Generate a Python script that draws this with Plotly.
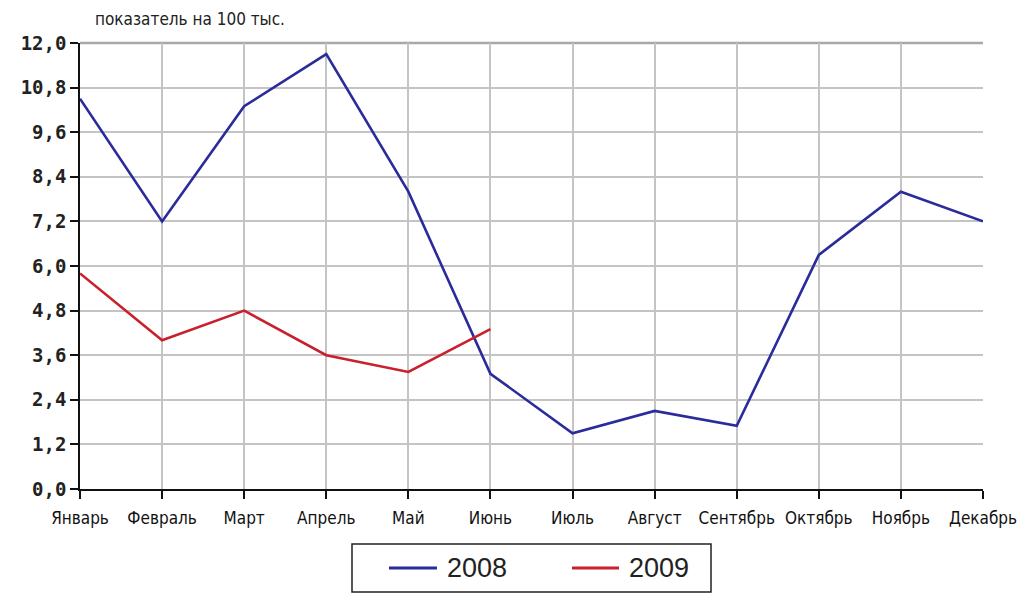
import plotly.graph_objects as go

# Monthly indicator per 100 thousand
months = ["Январь", "Февраль", "Март", "Апрель", "Май", "Июнь",
          "Июль", "Август", "Сентябрь", "Октябрь", "Ноябрь", "Декабрь"]
values_2008 = [10.5, 7.2, 10.3, 11.7, 8.0, 3.1, 1.5, 2.1, 1.7, 6.3, 8.0, 7.2]
values_2009 = [5.8, 4.0, 4.8, 3.6, 3.15, 4.3]
y_ticks = [0.0, 1.2, 2.4, 3.6, 4.8, 6.0, 7.2, 8.4, 9.6, 10.8, 12.0]

series = [
    ("2008", months, values_2008, "#2b2b9b"),
    ("2009", months[:len(values_2009)], values_2009, "#c8202c"),
]

fig = go.Figure()
for name, xs, ys, color in series:
    fig.add_trace(go.Scatter(
        x=xs, y=ys, mode="lines", name=name, showlegend=False,
        line=dict(color=color, width=2.6),
    ))

narrow = "DejaVu Sans Condensed, Liberation Sans Narrow, Arial Narrow, sans-serif"

fig.update_layout(
    width=1021, height=594,
    margin=dict(l=80, r=38, t=43, b=105),
    paper_bgcolor="white", plot_bgcolor="white",
    separators=", ",
    xaxis=dict(
        type="category", categoryorder="array", categoryarray=months,
        range=[0, 11], automargin=False, tickangle=0, ticklabelstandoff=5,
        showgrid=True, gridcolor="#c4c4c4", gridwidth=1.5,
        showline=True, linecolor="#111", linewidth=1.5,
        ticks="outside", ticklen=8, tickwidth=1.5, tickcolor="#111",
        tickfont=dict(family=narrow, size=17, color="#111"),
        zeroline=False,
    ),
    yaxis=dict(
        range=[0, 12], tickvals=y_ticks, tickformat=".1f", automargin=False,
        showgrid=True, gridcolor="#c4c4c4", gridwidth=1.5,
        showline=True, linecolor="#111", linewidth=1.5,
        ticks="outside", ticklen=8, tickwidth=1.5, tickcolor="#111",
        tickfont=dict(family="DejaVu Sans Mono, monospace", size=19,
                      color="#222", weight="bold"),
        zeroline=False,
    ),
    annotations=[
        dict(text="показатель на 100 тыс.", xref="paper", yref="paper",
             x=0.0144, y=1.054, xanchor="left", yanchor="middle",
             showarrow=False, font=dict(family=narrow, size=17, color="#222")),
    ],
    shapes=[
        # heavier top border at the upper limit
        dict(type="line", xref="paper", yref="paper", x0=0, x1=1, y0=1, y1=1,
             line=dict(color="#a8a8a8", width=2.5), layer="below"),
    ],
)

# Boxed legend drawn below the plot
legend_box = dict(x0=352, x1=711, y0=544, y1=592)
plot_l, plot_r, plot_t, plot_b = 80, 983, 43, 489


def px_to_paper(xp, yp):
    return ((xp - plot_l) / (plot_r - plot_l), (plot_b - yp) / (plot_b - plot_t))


bx0, by0 = px_to_paper(legend_box["x0"], legend_box["y0"])
bx1, by1 = px_to_paper(legend_box["x1"], legend_box["y1"])
fig.add_shape(type="rect", xref="paper", yref="paper", x0=bx0, x1=bx1, y0=by1, y1=by0,
              line=dict(color="#222", width=1.5), fillcolor="white")

legend_items = [(series[0][0], series[0][3], 389, 437, 445),
                (series[1][0], series[1][3], 572, 619, 627)]
for name, color, lx0, lx1, tx in legend_items:
    sx0, sy = px_to_paper(lx0, 568)
    sx1, _ = px_to_paper(lx1, 568)
    fig.add_shape(type="line", xref="paper", yref="paper", x0=sx0, x1=sx1, y0=sy, y1=sy,
                  line=dict(color=color, width=2.8))
    tx_p, _ = px_to_paper(tx, 568)
    fig.add_annotation(text=name, xref="paper", yref="paper", x=tx_p, y=sy,
                       xanchor="left", yanchor="middle", showarrow=False,
                       font=dict(family="Liberation Sans, Arial, sans-serif", size=27, color="#222"))

fig.write_html("out.html")
